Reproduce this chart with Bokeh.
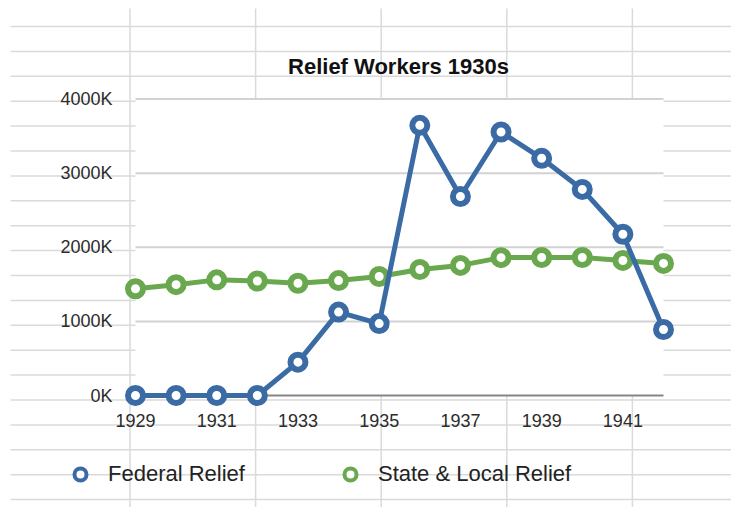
from bokeh.plotting import figure
from bokeh.models import (Range1d, LinearAxis, FixedTicker, PrintfTickFormatter,
                          Label, Legend, LegendItem)
from bokeh.embed import file_html
from bokeh.resources import INLINE

# ---------------- data (values in thousands of workers) ----------------
years = [1929, 1930, 1931, 1932, 1933, 1934, 1935, 1936, 1937, 1938, 1939, 1940, 1941, 1942]
federal_relief = [0, 0, 0, 0, 450, 1125, 970, 3645, 2685, 3555, 3200, 2780, 2175, 890]
state_local_relief = [1440, 1495, 1560, 1545, 1515, 1550, 1605, 1700, 1755, 1860, 1862, 1862, 1822, 1782]
x_tick_years = [1929, 1931, 1933, 1935, 1937, 1939, 1941]
y_ticks = [0, 1000, 2000, 3000, 4000]
series_names = ["Federal Relief", "State & Local Relief"]
chart_title = "Relief Workers 1930s"

# ---------------- styling / layout ----------------
BLUE = "#3b6ba5"
GREEN = "#6aa84f"
FONT = "Liberation Sans"
W, H = 731, 507
# pixel positions of the plot corners inside the figure
X0_PX, X1_PX = 135.0, 663.0
Y0_PX, Y1_PX = 395.0, 98.5

ppx = (X1_PX - X0_PX) / (years[-1] - years[0])
x_start = years[0] - X0_PX / ppx
x_end = years[-1] + (W - X1_PX) / ppx
ppy = (Y0_PX - Y1_PX) / (y_ticks[-1] - y_ticks[0])
y_top = y_ticks[-1] + Y1_PX / ppy
y_bottom = y_ticks[0] - (H - Y0_PX) / ppy

p = figure(width=W, height=H, x_range=Range1d(x_start, x_end), y_range=Range1d(y_bottom, y_top),
           x_axis_type=None, y_axis_type=None, toolbar_location=None, output_backend="svg",
           min_border=0, title=None)
p.outline_line_color = None
p.background_fill_color = "white"
p.border_fill_color = "white"

# spreadsheet-like background grid (pixel coordinates)
p.extra_x_ranges = {"sx": Range1d(0, W)}
p.extra_y_ranges = {"sy": Range1d(H, 0)}
rows = [26 + 24.9 * k for k in range(20)]
cols = [129.5 + 125.6 * k for k in range(5)]
p.segment(x0=10, y0=rows, x1=W + 20, y1=rows, x_range_name="sx", y_range_name="sy",
          line_color="#dadada", line_width=1.5, level="image")
p.segment(x0=cols, y0=8, x1=cols, y1=H + 20, x_range_name="sx", y_range_name="sy",
          line_color="#dadada", line_width=1.5, level="image")

# white plot area
p.quad(left=years[0], right=years[-1], bottom=y_ticks[0], top=y_ticks[-1],
       fill_color="white", line_color=None, level="image")

# chart gridlines
p.segment(x0=years[0], x1=years[-1], y0=y_ticks[1:], y1=y_ticks[1:],
          line_color="#d2d2d2", line_width=2, level="underlay")

# axes
yaxis = LinearAxis(fixed_location=years[0], ticker=FixedTicker(ticks=y_ticks),
                   formatter=PrintfTickFormatter(format="%dK"))
yaxis.axis_line_color = None
yaxis.major_tick_line_color = None
yaxis.minor_tick_line_color = None
yaxis.major_tick_in = 0
yaxis.major_tick_out = 0
yaxis.major_label_standoff = 23
yaxis.major_label_text_font = FONT
yaxis.major_label_text_font_size = "18px"
yaxis.major_label_text_color = "#2b2b2b"
p.add_layout(yaxis, "left")

xaxis = LinearAxis(fixed_location=y_ticks[0], ticker=FixedTicker(ticks=x_tick_years),
                   bounds=(years[0], years[-1]), level="underlay")
xaxis.axis_line_color = "#858585"
xaxis.axis_line_width = 2
xaxis.major_tick_line_color = None
xaxis.minor_tick_line_color = None
xaxis.major_tick_in = 0
xaxis.major_tick_out = 0
xaxis.major_label_standoff = 18
xaxis.major_label_text_font = FONT
xaxis.major_label_text_font_size = "18px"
xaxis.major_label_text_color = "#2b2b2b"
p.add_layout(xaxis, "below")

# data series
p.line(years, state_local_relief, line_color=GREEN, line_width=5, line_join="round")
p.scatter(years, state_local_relief, marker="circle", size=15, line_width=6,
          line_color=GREEN, fill_color="white")
p.line(years, federal_relief, line_color=BLUE, line_width=5, line_join="round")
p.scatter(years, federal_relief, marker="circle", size=15, line_width=6,
          line_color=BLUE, fill_color="white")

# legend swatches (hidden renderers used only for the legend glyphs)
leg_fed = p.scatter(x=years[:1], y=federal_relief[:1], marker="circle", line_color=BLUE,
                    fill_color="white", line_width=4, visible=False)
leg_sl = p.scatter(x=years[:1], y=state_local_relief[:1], marker="circle", line_color=GREEN,
                   fill_color="white", line_width=4, visible=False)
legend = Legend(items=[LegendItem(label=series_names[0], renderers=[leg_fed]),
                       LegendItem(label=series_names[1], renderers=[leg_sl])],
                orientation="horizontal", location=(65, 18), spacing=90, padding=0, margin=0,
                glyph_width=30, glyph_height=30, label_height=30, label_standoff=13,
                label_text_font=FONT, label_text_font_size="22px", label_text_color="#222222",
                background_fill_alpha=0, border_line_alpha=0,
                inactive_fill_alpha=0)
p.add_layout(legend)

# title
p.add_layout(Label(x=398, y=H - 66, x_units="screen", y_units="screen",
                   text=chart_title, text_align="center", text_baseline="middle",
                   text_font=FONT, text_font_style="bold", text_font_size="22px",
                   text_color="#111111"))

open("out.html", "w").write(file_html(p, INLINE))
